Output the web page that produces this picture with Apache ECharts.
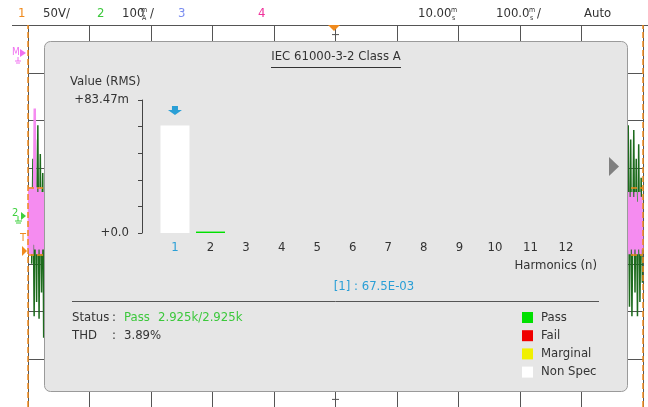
<!DOCTYPE html>
<html><head><meta charset="utf-8">
<script src="https://cdn.jsdelivr.net/npm/echarts@6/dist/echarts.min.js"></script>
<style>html,body{margin:0;padding:0;background:#fff}#c{width:648px;height:407px}</style>
</head><body><div id="c"></div><script>
// ---- data ----
const harmonicOrders = ['1','2','3','4','5','6','7','8','9','10','11','12'];
const harmonicValues = [67.5, 0.9, 0, 0, 0, 0, 0, 0, 0, 0, 0, 0]; // milli units (RMS)
const harmonicStatus = ['Non Spec','Pass','Pass','Pass','Pass','Pass','Pass','Pass','Pass','Pass','Pass','Pass'];
const yAxisMax = 83.47;
const yTopLabel = '+83.47m';
const yBottomLabel = '+0.0';
const statusNames = ['Pass','Fail','Marginal','Non Spec'];
const statusColors = ['#00e000','#f00000','#f0f000','#ffffff'];
const selectedHarmonic = 0;
const thdText = '3.89%';
const passCountText = '2.925k/2.925k';
const standardTitle = 'IEC 61000-3-2 Class A';
// scope trace data (division units)
const traceGreen = [[0.06,3.0],[0.08,5.2],[0.10,1.9],[0.12,5.6],[0.14,2.2],[0.16,5.9],[0.18,1.85],[0.20,5.3],[0.22,2.4],[0.24,4.9],[0.255,1.45],[0.28,3.8],[5,3.8],
  [9.74,4.2],[9.76,5.9],[9.78,2.1],[9.80,5.6],[9.82,1.9],[9.85,5.8],[9.87,2.4],[9.89,5.2],[9.91,1.9],[9.93,5.5],[9.95,2.2],[9.97,4.8],[9.99,2.6]];
const tracePink = [[0.01,3.3],[0.02,4.6],[0.03,3.2],[0.04,4.5],[0.05,3.3],[0.06,4.6],[0.07,3.2],[0.08,4.5],[0.09,3.4],[0.11,6.25],[0.12,3.3],[0.13,4.6],[0.15,3.2],[0.16,4.5],[0.18,3.3],[0.19,4.6],[0.21,3.2],[0.22,4.5],[0.24,3.3],[0.25,4.5],[0.27,3.4],[5,4.0],
  [9.75,3.3],[9.76,4.5],[9.78,3.2],[9.79,4.4],[9.81,3.3],[9.82,4.5],[9.84,3.2],[9.85,4.4],[9.87,3.3],[9.88,4.5],[9.90,3.2],[9.91,4.3],[9.93,3.3],[9.94,4.5],[9.96,3.2],[9.97,4.4],[9.99,3.3]];
const triggerLevels = [4.6, 3.19];

const FONT = '"DejaVu Sans Condensed","Liberation Sans Narrow",sans-serif';
const TXT = '#333333';
const BLUE = '#2a9fd6';
const ORANGE = '#f08a1c';
const GREEN_T = '#3cc83c';
const FS = 13;

const statusColor = s => statusColors[statusNames.indexOf(s)];
const cursorText = '[' + harmonicOrders[selectedHarmonic] + '] : ' + harmonicValues[selectedHarmonic].toFixed(1) + 'E-03';

function txt(x, y, s, color, size, align, z) {
  return {type:'text', x, y, z: z == null ? 12 : z, style:{text:s, fill:color||TXT, font:(size||FS)+'px '+FONT, textAlign:align||'left', textVerticalAlign:'middle'}};
}
function line(x1,y1,x2,y2,color,w,z){
  return {type:'line', z: z==null?12:z, shape:{x1,y1,x2,y2}, style:{stroke:color, lineWidth:w||1}};
}
function poly(points, color, z){ return {type:'polygon', z: z==null?12:z, shape:{points}, style:{fill:color}}; }

const graphics = [
  // header
  txt(18,14,'1',ORANGE), txt(43,14,'50V/'),
  txt(97,14,'2',GREEN_T), txt(122,14,'100'), txt(141,10,'m',TXT,7), txt(142,18,'A',TXT,7), txt(150,14,'/'),
  txt(178,14,'3','#7a8cf0'), txt(258,14,'4','#f0309a'),
  txt(418,14,'10.00'), txt(451,10,'m',TXT,7), txt(452,18,'s',TXT,7),
  txt(496,14,'100.0'), txt(529,10,'m',TXT,7), txt(530,18,'s',TXT,7), txt(537,14,'/'),
  txt(584,14,'Auto'),
  line(12,25.5,648,25.5,'#555',1,1),
  // top trigger marker & center ticks
  poly([[328,25],[340,25],[334,31]],ORANGE,3),
  line(332,34.6,339,34.6,'#555',1,1), line(332,399.4,339,399.4,'#555',1,1),
  // left markers
  txt(12,52,'M','#f070f0',10,'left',3), poly([[20,49],[26,53],[20,57]],'#f070f0',3),
  line(18,57,18,61,'#f070f0',1,3), line(15,61,21,61,'#f070f0',1,3), line(16,63,20,63,'#f070f0',1,3),
  txt(12,213,'2','#3cd03c',11,'left',3), poly([[21,212],[26,216],[21,220]],'#3cd03c',3),
  line(18,216,18,221,'#3cd03c',1,3), line(15,221,22,221,'#3cd03c',1,3), line(16,223,21,223,'#3cd03c',1,3),
  txt(20,238,'T',ORANGE,11,'left',3), poly([[22,246],[27,251],[22,256]],ORANGE,3),
  // panel
  {type:'rect', z:5, shape:{x:44.5,y:41.5,width:583,height:350,r:6}, style:{fill:'#e6e6e6', stroke:'#9a9a9a', lineWidth:1}},
  txt(336,57,standardTitle,TXT,FS,'center'),
  line(271,67.5,401,67.5,TXT,1),
  txt(70,82,'Value (RMS)'),
  txt(597,266,'Harmonics (n)',TXT,FS,'right'),
  txt(374,287,cursorText,BLUE,FS,'center'),
  line(72,301.5,599,301.5,'#555',1),
  txt(72,318,'Status'), txt(112,318,':'), txt(124,318,'Pass',GREEN_T), txt(158,318,passCountText,GREEN_T),
  txt(72,336,'THD'), txt(112,336,':'), txt(124,336,thdText),
  poly([[609,157],[619,166.5],[609,176]],'#808080')
];
statusNames.forEach((n,i)=>{
  const cy = 317.5 + i*18.2;
  graphics.push({type:'rect', z:12, shape:{x:522,y:cy-5.5,width:11,height:11}, style:{fill:statusColors[i]}});
  graphics.push(txt(541,cy,n));
});

const chart = echarts.init(document.getElementById('c'), null, {renderer:'canvas'});
chart.setOption({
  backgroundColor:'#ffffff',
  animation:false,
  grid:[
    {left:28, top:25, width:615, height:384},
    {left:157.2, top:100, width:426.6, height:133}
  ],
  xAxis:[
    {type:'value', gridIndex:0, min:0, max:10, interval:1, z:0,
     axisLine:{show:false}, axisTick:{show:false}, axisLabel:{show:false},
     splitLine:{show:true, lineStyle:{color:'#555', width:1}}},
    {type:'category', gridIndex:1, data:harmonicOrders, z:10,
     axisLine:{show:false}, axisTick:{show:false},
     axisLabel:{margin:8, fontSize:FS, fontFamily:FONT, color:(v,i)=> i===selectedHarmonic ? BLUE : TXT}}
  ],
  yAxis:[
    {type:'value', gridIndex:0, min:0, max:8, interval:1, z:0,
     axisLine:{show:false}, axisTick:{show:false}, axisLabel:{show:false},
     splitLine:{show:true, lineStyle:{color:'#555', width:1}}},
    {type:'value', gridIndex:1, min:0, max:yAxisMax, interval:yAxisMax/5, offset:15.2, z:10,
     axisLine:{show:true, lineStyle:{color:'#444', width:1}},
     axisTick:{show:true, length:4, lineStyle:{color:'#444'}},
     splitLine:{show:false},
     axisLabel:{margin:13, fontSize:FS, fontFamily:FONT, color:TXT,
       formatter:v => (Math.abs(v-yAxisMax)<1e-6 ? yTopLabel : (v===0 ? yBottomLabel : ''))}}
  ],
  graphic: graphics,
  series:[
    {type:'line', xAxisIndex:0, yAxisIndex:0, z:2, data:traceGreen, showSymbol:false, silent:true,
     lineStyle:{color:'#1d6b1d', width:1.5}},
    {type:'line', xAxisIndex:0, yAxisIndex:0, z:3, data:tracePink, showSymbol:false, silent:true,
     lineStyle:{color:'#f58cf0', width:2.5},
     markLine:{silent:true, z:4, symbol:'none', label:{show:false},
       lineStyle:{color:ORANGE, type:'dashed', width:1.5},
       data: triggerLevels.map(v=>({yAxis:v})).concat([{xAxis:0},{xAxis:10}])}},
    {type:'bar', xAxisIndex:1, yAxisIndex:1, z:10, barWidth:29,
     data: harmonicValues.map((v,i)=>({value:v, itemStyle:{color:statusColor(harmonicStatus[i])}})),
     markPoint:{z:11, symbol:'path://M4,0 L10,0 L10,4 L14,4 L7,9 L0,4 L4,4 Z', symbolSize:[14,9], symbolOffset:[0,-15],
       itemStyle:{color:BLUE}, label:{show:false},
       data:[{coord:[selectedHarmonic, harmonicValues[selectedHarmonic]]}]}}
  ]
});
</script></body></html>
